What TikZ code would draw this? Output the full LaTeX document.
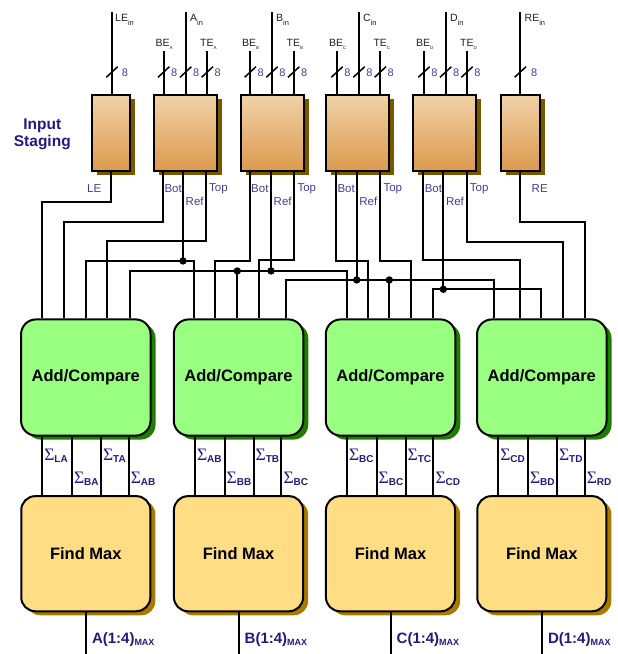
\documentclass[tikz,border=0pt]{standalone}
\usepackage{fontspec}
\setmainfont{Liberation Sans}
\newfontfamily\serifG{Liberation Serif}
\usetikzlibrary{calc,shadows}
\definecolor{stgtop}{RGB}{240,210,168}
\definecolor{stgbot}{RGB}{220,154,78}
\definecolor{stgshd}{RGB}{123,86,0}
\definecolor{grnfill}{RGB}{152,255,128}
\definecolor{grnshd}{RGB}{30,125,0}
\definecolor{ylwfill}{RGB}{255,221,133}
\definecolor{ylwshd}{RGB}{170,122,0}
\definecolor{lblue}{RGB}{70,60,160}
\definecolor{navy}{RGB}{35,25,130}
\definecolor{ink}{RGB}{30,30,30}
\newcommand\insub[1]{\raisebox{-4pt}{\fontsize{7.5}{8}\selectfont #1}}
\newcommand\tinysub[1]{\raisebox{-3.3pt}{\fontsize{4.5}{5}\selectfont #1}}
\newcommand\sig[1]{{\serifG\fontsize{17.5}{17.5}\selectfont Σ}\raisebox{-2.7pt}{\bfseries\fontsize{10}{11}\selectfont #1}}
\newcommand\maxlbl[1]{{\bfseries\fontsize{15}{17}\selectfont #1(1:4)\raisebox{-2pt}{\fontsize{9}{10}\selectfont MAX}}}
\begin{document}
\begin{tikzpicture}[x=1pt,y=-1pt,
  wire/.style={line width=2pt},
  slashln/.style={line width=1.5pt},
  dot/.style={circle,fill=black,inner sep=0pt,minimum size=7.4pt},
  stgbox/.style={draw,line width=2pt,top color=stgtop,bottom color=stgbot,
    minimum height=76.3pt,inner sep=0pt,
    drop shadow={shadow xshift=5pt,shadow yshift=-4pt,fill=stgshd,opacity=1}},
  grnbox/.style={draw,line width=2pt,fill=grnfill,rounded corners=15pt,
    minimum width=129.5pt,minimum height=116.2pt,inner sep=0pt,
    font=\bfseries\fontsize{16.5}{18}\selectfont,
    drop shadow={shadow xshift=5pt,shadow yshift=-4pt,fill=grnshd,opacity=1}},
  ylwbox/.style={draw,line width=2pt,fill=ylwfill,rounded corners=14pt,
    minimum width=129.1pt,minimum height=115.1pt,inner sep=0pt,
    font=\bfseries\fontsize{16.5}{18}\selectfont,
    drop shadow={shadow xshift=5pt,shadow yshift=-4pt,fill=ylwshd,opacity=1}},
  inlbl/.style={inner sep=0pt,anchor=base west,text=ink,font=\fontsize{10.5}{12}\selectfont},
  eight/.style={inner sep=0pt,text=lblue,font=\fontsize{11}{12}\selectfont},
  outlbl/.style={inner sep=0pt,text=lblue,font=\fontsize{11.5}{13}\selectfont},
  siglbl/.style={inner sep=0pt,anchor=base west,text=navy},
  maxl/.style={inner sep=0pt,anchor=base west,text=navy}
]
\useasboundingbox (0,0) rectangle (618,654);

% ---------- staging boxes ----------
\node[stgbox,minimum width=38.3pt] (LE) at (111,132.8) {};
\node[stgbox,minimum width=63pt] (A) at (185.5,132.8) {};
\node[stgbox,minimum width=63pt] (B) at (272,132.8) {};
\node[stgbox,minimum width=63pt] (C) at (357.8,132.8) {};
\node[stgbox,minimum width=63pt] (D) at (444.5,132.8) {};
\node[stgbox,minimum width=38.6pt] (RE) at (520.6,132.8) {};

\node[text=navy,font=\bfseries\fontsize{15.5}{17}\selectfont,align=center,inner sep=0pt] (stg) at (42.3,134.5) {Input\\Staging};

% ---------- inputs ----------
\coordinate (LEin) at (112,12.3);
\coordinate (Ain) at (185.7,12.3);
\coordinate (BEA) at (163.7,50.7);
\coordinate (TEA) at (207.3,50.7);
\coordinate (Bin) at (272,12.3);
\coordinate (BEB) at (250.3,50.7);
\coordinate (TEB) at (293.7,50.7);
\coordinate (Cin) at (359,12.3);
\coordinate (BEC) at (337,50.7);
\coordinate (TEC) at (380.3,50.7);
\coordinate (Din) at (445.7,12.3);
\coordinate (BED) at (424,50.7);
\coordinate (TED) at (467,50.7);
\coordinate (REin) at (520.3,12.3);

\foreach \p/\b in {LEin/LE,Ain/A,BEA/A,TEA/A,Bin/B,BEB/B,TEB/B,Cin/C,BEC/C,TEC/C,Din/D,BED/D,TED/D,REin/RE}
  \draw[wire] (\p) -- (\p |- \b.north);

\foreach \x/\d in {112/13,163.7/10.5,185.7/10.5,207.3/10.5,250.3/10.5,272/10.5,293.7/10.5,337/10.5,359/10.5,380.3/10.5,424/10.5,445.7/10.5,467/10.5,520.3/14}{
  \draw[slashln] (\x-5.7,77.3) -- (\x+5.7,66.7);
  \node[eight] at (\x+\d,72.6) {8};
}

\node[inlbl] at (115,21) {LE\insub{in}};
\node[inlbl] at (190,21) {A\insub{in}};
\node[inlbl] at (276,21) {B\insub{in}};
\node[inlbl] at (363,21) {C\insub{in}};
\node[inlbl] at (450,21) {D\insub{in}};
\node[inlbl] at (524.5,21) {RE\insub{in}};
\node[inlbl] at (155.5,46) {BE\tinysub{A}};
\node[inlbl] at (200,46) {TE\tinysub{A}};
\node[inlbl] at (242,46) {BE\tinysub{B}};
\node[inlbl] at (286.5,46) {TE\tinysub{B}};
\node[inlbl] at (329,46) {BE\tinysub{C}};
\node[inlbl] at (373.3,46) {TE\tinysub{C}};
\node[inlbl] at (416,46) {BE\tinysub{D}};
\node[inlbl] at (460,46) {TE\tinysub{D}};

% ---------- staging outputs ----------
\coordinate (LEo) at (LE.south -| 111.3,0);
\coordinate (Abot) at (A.south -| 163,0);
\coordinate (Aref) at (A.south -| 183,0);
\coordinate (Atop) at (A.south -| 206,0);
\coordinate (Bbot) at (B.south -| 249.7,0);
\coordinate (Bref) at (B.south -| 271,0);
\coordinate (Btop) at (B.south -| 294.3,0);
\coordinate (Cbot) at (C.south -| 336,0);
\coordinate (Cref) at (C.south -| 356.7,0);
\coordinate (Ctop) at (C.south -| 380.3,0);
\coordinate (Dbot) at (D.south -| 423.3,0);
\coordinate (Dref) at (D.south -| 443.3,0);
\coordinate (Dtop) at (D.south -| 466.7,0);
\coordinate (REo) at (RE.south -| 520,0);

\node[outlbl,anchor=east] at (101.5,188.3) {LE};
\foreach \n in {A,B,C,D}{
  \node[outlbl,anchor=west] at ($(\n bot)+(1.3,16.3)$) {Bot};
  \node[outlbl,anchor=west] at ($(\n ref)+(2.5,29)$) {Ref};
  \node[outlbl,anchor=west] at ($(\n top)+(3,16.3)$) {Top};
}
\node[outlbl,anchor=west] at (531.5,188.3) {RE};

% ---------- add/compare ----------
\node[grnbox] (G1) at (85.8,377.5) {Add/Compare};
\node[grnbox] (G2) at (238.5,377.5) {Add/Compare};
\node[grnbox] (G3) at (390.5,377.5) {Add/Compare};
\node[grnbox] (G4) at (541.8,377.5) {Add/Compare};

\coordinate (g1a) at (G1.north -| 42.3,0);
\coordinate (g1b) at (G1.north -| 63.7,0);
\coordinate (g1c) at (G1.north -| 86,0);
\coordinate (g1d) at (G1.north -| 107,0);
\coordinate (g1e) at (G1.north -| 130,0);
\coordinate (g2a) at (G2.north -| 194.3,0);
\coordinate (g2b) at (G2.north -| 215.3,0);
\coordinate (g2c) at (G2.north -| 237.3,0);
\coordinate (g2d) at (G2.north -| 259,0);
\coordinate (g2e) at (G2.north -| 285.7,0);
\coordinate (g3a) at (G3.north -| 346.7,0);
\coordinate (g3b) at (G3.north -| 368,0);
\coordinate (g3c) at (G3.north -| 389.3,0);
\coordinate (g3d) at (G3.north -| 411,0);
\coordinate (g3e) at (G3.north -| 433.3,0);
\coordinate (g4a) at (G4.north -| 494.3,0);
\coordinate (g4b) at (G4.north -| 520,0);
\coordinate (g4c) at (G4.north -| 541,0);
\coordinate (g4d) at (G4.north -| 563.3,0);
\coordinate (g4e) at (G4.north -| 585,0);

% direct wires
\draw[wire] (LEo) -- ++(0,30) -| (g1a);
\draw[wire] (Abot) -- ++(0,50) -| (g1b);
\draw[wire] (Atop) -- ++(0,69) -| (g1d);
\draw[wire] (Bbot) -- ++(0,89) -| (g2b);
\draw[wire] (Btop) -- ++(0,88) -| (g2d);
\draw[wire] (Cbot) -- ++(0,89) -| (g3b);
\draw[wire] (Ctop) -- ++(0,89) -| (g3d);
\draw[wire] (Dbot) -- ++(0,88) -| (g4b);
\draw[wire] (Dtop) -- ++(0,70) -| (g4d);
\draw[wire] (REo) -- ++(0,50) -| (g4e);

% reference buses
\coordinate (Adot) at ($(Aref)+(0,89)$);
\coordinate (Bdot) at ($(Bref)+(0,99)$);
\coordinate (Cdot) at ($(Cref)+(0,108)$);
\coordinate (Ddot) at ($(Dref)+(0,117.3)$);
\draw[wire] (Aref) -- (Adot);
\draw[wire] (g1c) |- (Adot) -| (g2a);
\draw[wire] (Bref) -- (Bdot);
\draw[wire] (g1e) |- (Bdot) -| (g3a);
\draw[wire] (g2c) -- (g2c |- Bdot);
\draw[wire] (Cref) -- (Cdot);
\draw[wire] (g2e) |- (Cdot) -| (g4a);
\draw[wire] (g3c) -- (g3c |- Cdot);
\draw[wire] (Dref) -- (Ddot);
\draw[wire] (g3e) |- (Ddot) -| (g4c);
\node[dot] at (Adot) {};
\node[dot] at (Bdot) {};
\node[dot] at (g2c |- Bdot) {};
\node[dot] at (Cdot) {};
\node[dot] at (g3c |- Cdot) {};
\node[dot] at (Ddot) {};

% ---------- find max ----------
\node[ylwbox] (Y1) at (85.8,553.7) {Find Max};
\node[ylwbox] (Y2) at (238.5,553.7) {Find Max};
\node[ylwbox] (Y3) at (390.5,553.7) {Find Max};
\node[ylwbox] (Y4) at (541.8,553.7) {Find Max};

\foreach \i/\sa/\sb/\sc/\sd in {1/LA/BA/TA/AB,2/AB/BB/TB/BC,3/BC/BC/TC/CD,4/CD/BD/TD/RD}{
  \foreach \o in {-43.7,-14,15,42.8}
    \draw[wire] ($(G\i.south)+(\o,0)$) -- ($(Y\i.north)+(\o,0)$);
  \node[siglbl] at ($(G\i.south |- 0,460)+(-41.7,0)$) {\sig{\sa}};
  \node[siglbl] at ($(G\i.south |- 0,483)+(-12,0)$) {\sig{\sb}};
  \node[siglbl] at ($(G\i.south |- 0,460)+(17,0)$) {\sig{\sc}};
  \node[siglbl] at ($(G\i.south |- 0,483)+(44.8,0)$) {\sig{\sd}};
}

\foreach \i/\l in {1/A,2/B,3/C,4/D}{
  \coordinate (o\i) at (Y\i.south |- 0,654);
  \draw[wire] (Y\i.south) -- (o\i);
  \node[maxl] at ($(Y\i.south |- 0,643.3)+(6,0)$) {\maxlbl{\l}};
}
\end{tikzpicture}
\end{document}
